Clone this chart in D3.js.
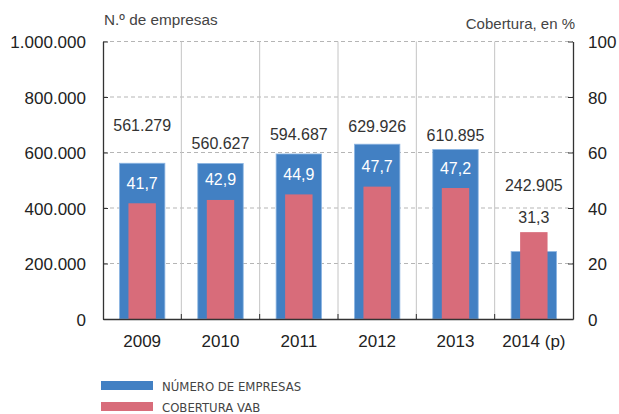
<!DOCTYPE html>
<html lang="es">
<head>
<meta charset="UTF-8">
<title>Número de empresas y cobertura VAB</title>
<script src="https://cdnjs.cloudflare.com/ajax/libs/d3/7.8.5/d3.min.js"></script>
<style>
    body { margin: 0; padding: 0; background: #fff; font-family: "Liberation Sans", Arial, sans-serif; }
    svg text { fill: #333; }
</style>
</head>
<body>
<div id="chart"></div>
<script>
    // Datos
    const years = ['2009', '2010', '2011', '2012', '2013', '2014 (p)'];
    const empresas = [561279, 560627, 594687, 629926, 610895, 242905];
    const cobertura = [41.7, 42.9, 44.9, 47.7, 47.2, 31.3];
    const leftTicks = [0, 200000, 400000, 600000, 800000, 1000000];
    const rightTicks = [0, 20, 40, 60, 80, 100];

    // label nudges (px above bar top) - the original places them by hand
    const empLabelGap = [38, 20, 19, 18, 14, 66];

    const width = 619, height = 414;
    const margin = { top: 41.5, right: 46, bottom: 95, left: 103 };

    const svg = d3.select('#chart').append('svg')
        .attr('width', width)
        .attr('height', height);

    const x = d3.scaleBand()
        .domain(years)
        .range([margin.left, width - margin.right]);

    const yLeft = d3.scaleLinear()
        .domain([0, 1000000])
        .range([height - margin.bottom, margin.top]);

    const yRight = d3.scaleLinear()
        .domain([0, 100])
        .range([height - margin.bottom, margin.top]);

    const fmtNum = d3.formatLocale({ decimal: ',', thousands: '.', grouping: [3], currency: ['', '€'] });
    const fmtEmp = fmtNum.format(',d');
    const fmtPct = fmtNum.format(',.1f');

    const x0 = margin.left, x1 = width - margin.right;
    const y0 = height - margin.bottom, y1 = margin.top;

    // horizontal dashed grid
    svg.append('g').selectAll('line')
        .data(leftTicks.slice(1))
        .enter().append('line')
        .attr('x1', x0).attr('x2', x1)
        .attr('y1', d => yLeft(d)).attr('y2', d => yLeft(d))
        .attr('stroke', '#b5b5b5')
        .attr('stroke-width', 1)
        .attr('stroke-dasharray', '4,3');

    // vertical separators between categories
    const bounds = years.slice(1).map(d => x(d));
    svg.append('g').selectAll('line')
        .data(bounds)
        .enter().append('line')
        .attr('x1', d => d).attr('x2', d => d)
        .attr('y1', y1).attr('y2', y0)
        .attr('stroke', '#c4c4c4')
        .attr('stroke-width', 1);

    // bars
    const bw = x.bandwidth();
    const blueW = bw * 0.58, pinkW = bw * 0.35;

    svg.append('g').selectAll('rect')
        .data(empresas)
        .enter().append('rect')
        .attr('x', (d, i) => x(years[i]) + (bw - blueW) / 2)
        .attr('y', d => yLeft(d))
        .attr('width', blueW)
        .attr('height', d => y0 - yLeft(d))
        .attr('fill', '#4280c3')
        .attr('stroke', '#8db6e3')
        .attr('stroke-width', 0.8);

    svg.append('g').selectAll('rect')
        .data(cobertura)
        .enter().append('rect')
        .attr('x', (d, i) => x(years[i]) + (bw - pinkW) / 2)
        .attr('y', d => yRight(d))
        .attr('width', pinkW)
        .attr('height', d => y0 - yRight(d))
        .attr('fill', '#d86c7a');

    // labels
    svg.append('g').selectAll('text')
        .data(empresas)
        .enter().append('text')
        .attr('x', (d, i) => x(years[i]) + bw / 2)
        .attr('y', (d, i) => yLeft(d) - empLabelGap[i] + 5.5)
        .attr('text-anchor', 'middle')
        .attr('font-size', 16)
        .text(d => fmtEmp(d));

    svg.append('g').selectAll('text')
        .data(cobertura)
        .enter().append('text')
        .attr('x', (d, i) => x(years[i]) + bw / 2)
        .attr('y', (d, i) => yRight(d) - (i === years.length - 1 ? 15 : 20) + 5.5)
        .attr('text-anchor', 'middle')
        .attr('font-size', 16)
        .style('fill', (d, i) => i === years.length - 1 ? '#333' : '#fff')
        .text(d => fmtPct(d));

    // axes
    const leftAxis = d3.axisLeft(yLeft)
        .tickValues(leftTicks)
        .tickFormat(fmtEmp)
        .tickSizeInner(-5)
        .tickSizeOuter(0)
        .tickPadding(17);
    const gl = svg.append('g')
        .attr('transform', `translate(${x0},0)`)
        .call(leftAxis);

    const rightAxis = d3.axisRight(yRight)
        .tickValues(rightTicks)
        .tickSizeInner(-5)
        .tickSizeOuter(0)
        .tickPadding(15);
    const gr = svg.append('g')
        .attr('transform', `translate(${x1},0)`)
        .call(rightAxis);

    const bottomAxis = d3.axisBottom(x)
        .tickSize(0)
        .tickPadding(16);
    const gb = svg.append('g')
        .attr('transform', `translate(0,${y0})`)
        .call(bottomAxis);

    [gl, gr, gb].forEach(g => {
        g.select('.domain').attr('stroke', '#333').attr('stroke-width', 1.3);
        g.selectAll('.tick line').attr('stroke', '#333');
        g.selectAll('.tick text')
            .attr('font-family', '"Liberation Sans", Arial, sans-serif')
            .attr('font-size', 17)
            .style('fill', '#222');
    });
    gl.selectAll('.tick text').attr('dy', '0.36em');
    gr.selectAll('.tick text').attr('dy', '0.36em');

    // small upward ticks on the x axis at the separators
    svg.append('g').selectAll('line')
        .data(bounds)
        .enter().append('line')
        .attr('x1', d => d).attr('x2', d => d)
        .attr('y1', y0 - 5).attr('y2', y0)
        .attr('stroke', '#333')
        .attr('stroke-width', 1);

    // axis titles
    svg.append('text')
        .attr('x', 104).attr('y', 25)
        .attr('font-size', 15.3)
        .style('fill', '#444')
        .text('N.º de empresas');
    svg.append('text')
        .attr('x', 575).attr('y', 29)
        .attr('text-anchor', 'end')
        .attr('font-size', 15)
        .style('fill', '#444')
        .text('Cobertura, en %');

    // legend
    const legend = [
        { name: 'NÚMERO DE EMPRESAS', color: '#4280c3' },
        { name: 'COBERTURA VAB', color: '#d86c7a' }
    ];
    const lg = svg.append('g').selectAll('g')
        .data(legend)
        .enter().append('g')
        .attr('transform', (d, i) => `translate(101,${381 + i * 21})`);
    lg.append('rect')
        .attr('width', 52).attr('height', 9)
        .attr('fill', d => d.color);
    lg.append('text')
        .attr('x', 61).attr('y', 9.5)
        .attr('font-size', 13)
        .attr('font-family', '"Liberation Sans Narrow", "DejaVu Sans Condensed", Arial, sans-serif')
        .style('fill', '#444')
        .text(d => d.name);
</script>
</body>
</html>
